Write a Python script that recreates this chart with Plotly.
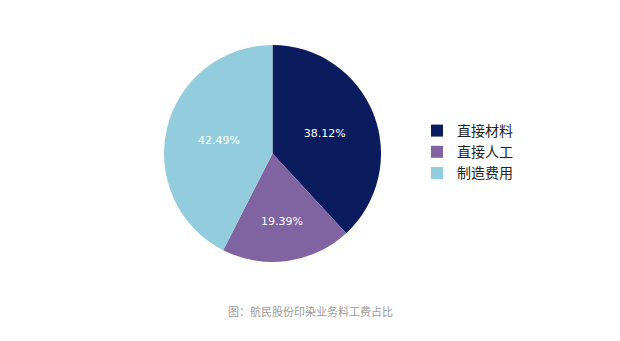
import plotly.graph_objects as go

categories = ["直接材料", "直接人工", "制造费用"]
values = [38.12, 19.39, 42.49]
colors = ["#0b1c5e", "#8064a2", "#93cddd"]
caption = "图：航民股份印染业务料工费占比"

W, H = 620, 341
OX, OY = 8, 8  # page body margin offset


def px_x(x):
    return (x - OX) / W


def px_y(y):
    return 1 - (y - OY) / H


fig = go.Figure(go.Pie(
    labels=categories,
    values=values,
    sort=False,
    direction="clockwise",
    rotation=0,
    marker=dict(colors=colors, line=dict(width=0)),
    texttemplate="%{value:.2f}%",
    textposition="inside",
    insidetextorientation="horizontal",
    textfont=dict(color="white", size=11, family="DejaVu Sans"),
    domain=dict(x=[px_x(164), px_x(381)], y=[px_y(262), px_y(45)]),
    hoverinfo="skip",
))

fig.update_layout(
    width=W, height=H,
    margin=dict(l=0, r=0, t=0, b=0),
    paper_bgcolor="white",
    plot_bgcolor="white",
    font=dict(family="Noto Sans CJK SC", color="#222222"),
    showlegend=True,
    legend=dict(
        x=px_x(417), y=px_y(115), xanchor="left", yanchor="top",
        font=dict(size=14, family="Noto Sans CJK SC", color="#222222"),
        itemwidth=30,
        tracegroupgap=0,
        bgcolor="rgba(0,0,0,0)",
    ),
    annotations=[dict(
        text=caption, x=px_x(310), y=px_y(311), xref="paper", yref="paper",
        showarrow=False, xanchor="center", yanchor="middle",
        font=dict(size=11, color="#9a9a9a", family="Noto Sans CJK SC"),
    )],
)

fig.write_html("out.html")
